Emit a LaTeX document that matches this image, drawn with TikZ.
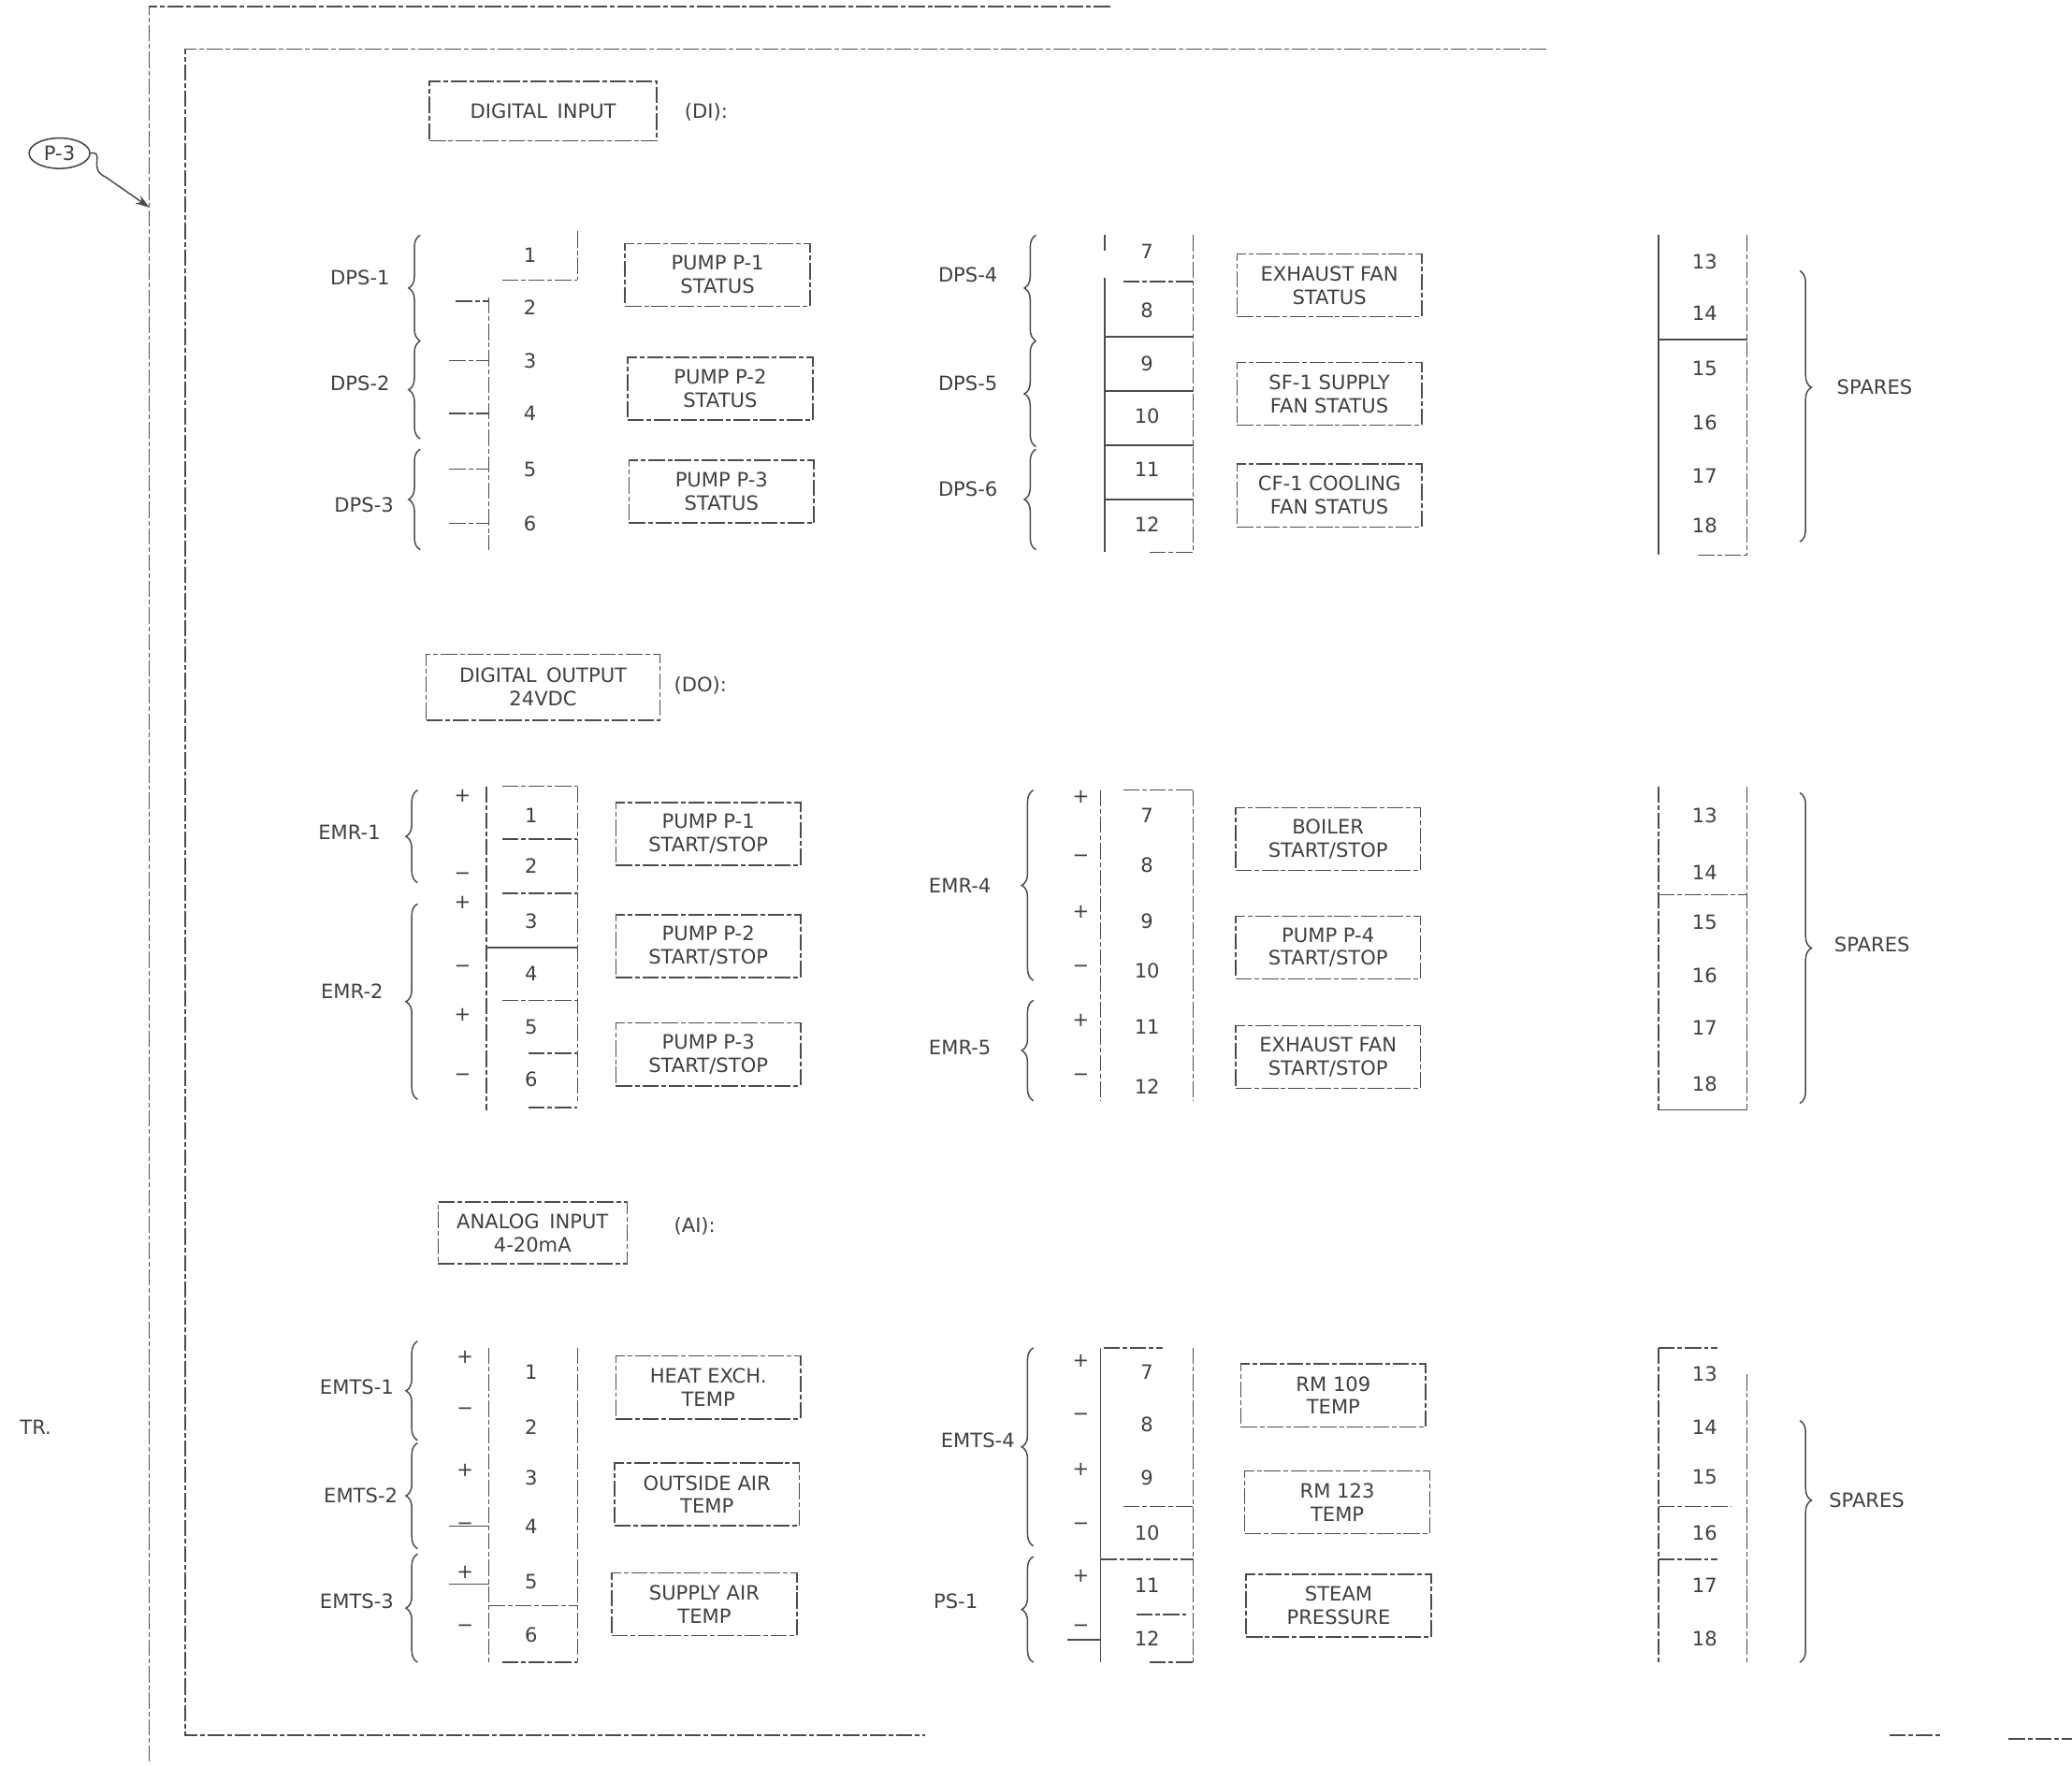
\documentclass[tikz,border=0pt]{standalone}
\usepackage{fontspec}
\setmainfont{DejaVu Sans}
\usetikzlibrary{decorations.pathreplacing,arrows.meta,shapes.geometric}
\begin{document}
\begin{tikzpicture}[x=0.02cm,y=-0.02cm,
  ink/.style={draw=black!70, line width=0.6pt},
  fl/.style={ink, dash pattern=on 7pt off 1.2pt on 2pt off 1.2pt},
  txt/.style={font=\fontsize{8.5}{10}\selectfont, text=black!75, inner sep=1pt},
  tbox/.style={txt, fl, align=center, minimum width=2.8cm, minimum height=0.95cm},
  ttl/.style={txt, fl, align=center, minimum height=0.9cm},
  brc/.style={ink, decorate, decoration={brace, amplitude=5pt}},
  brca/.style={ink, decorate, decoration={brace, amplitude=5pt, aspect=#1}},
]
\fill[white] (0,0) rectangle (1568,1337);
\useasboundingbox (0,0) rectangle (1568,1337);

% frames
\draw[fl] (840,5) -- (113,5) -- (113,1333);
\draw[fl] (1170,37) -- (140,37) -- (140,1313) -- (700,1313);
\draw[fl] (1430,1313) -- (1470,1313);
\draw[fl] (1520,1316) -- (1568,1316);

% P-3 reference
\node[txt, draw=black!75, line width=0.6pt, ellipse, minimum width=0.92cm, minimum height=0.46cm, inner sep=0] (p3) at (45,116) {P-3};
\coordinate (p3tip) at (113,157);
\draw[ink, -{Stealth[length=6pt,width=4pt]}] (p3.east) .. controls (80,114) and (66,128) .. (80,134) -- (p3tip);
\node[txt] (tr) at (27,1080) {TR.};

%%%%%%%%%%%%%%%% DIGITAL INPUT %%%%%%%%%%%%%%%%
\node[ttl, minimum width=3.44cm] (di) at (411,84) {DIGITAL\enspace INPUT};
\node[txt, anchor=west] (dit) at (516,85) {(DI):};

% left strip
\node[txt, anchor=east] (dps1) at (297,210) {DPS-1};
\node[txt, anchor=east] (dps2) at (297,290) {DPS-2};
\node[txt, anchor=east] (dps3) at (300,382) {DPS-3};
\draw[brc] (318,258) -- (318,178);
\draw[brc] (318,332) -- (318,258);
\draw[brc] (318,416) -- (318,340);
\foreach \n/\y in {1/193,2/233,3/273,4/313,5/355,6/396}
  \node[txt] (a\n) at (401,\y) {\n};
\draw[fl] (370,225) -- (370,416);
\draw[fl] (437,175) -- (437,212);
\draw[fl] (380,212) -- (437,212);
\draw[fl] (345,228) -- (370,228);
\foreach \y in {273,313,355,396} \draw[fl] (340,\y) -- (370,\y);
\node[tbox] (s1) at (543,208) {PUMP P-1\\STATUS};
\node[tbox] (s2) at (545,294) {PUMP P-2\\STATUS};
\node[tbox] (s3) at (546,372) {PUMP P-3\\STATUS};

% middle strip
\node[txt, anchor=east] (dps4) at (757,208) {DPS-4};
\node[txt, anchor=east] (dps5) at (757,290) {DPS-5};
\node[txt, anchor=east] (dps6) at (757,370) {DPS-6};
\draw[brc] (784,258) -- (784,178);
\draw[brc] (784,338) -- (784,258);
\draw[brc] (784,416) -- (784,340);
\foreach \n/\y in {7/190,8/235,9/275,10/315,11/355,12/397}
  \node[txt] (b\n) at (868,\y) {\n};
\draw[fl] (836,178) -- (836,190);
\draw[ink] (836,210) -- (836,418);
\draw[fl] (903,178) -- (903,418);
\draw[fl] (850,213) -- (903,213);
\foreach \y in {255,296,337,378} \draw[ink] (836,\y) -- (903,\y);
\draw[fl] (870,418) -- (903,418);
\node[tbox] (s4) at (1006,216) {EXHAUST FAN\\STATUS};
\node[tbox] (s5) at (1006,298) {SF-1 SUPPLY\\FAN STATUS};
\node[tbox] (s6) at (1006,375) {CF-1 COOLING\\FAN STATUS};

% right strip
\foreach \n/\y in {13/198,14/237,15/279,16/320,17/360,18/398}
  \node[txt] (c\n) at (1290,\y) {\n};
\draw[ink] (1255,178) -- (1255,420);
\draw[fl] (1322,178) -- (1322,420);
\draw[ink] (1255,257) -- (1322,257);
\draw[fl] (1285,420) -- (1322,420);
\draw[brca=0.43] (1362,205) -- (1362,410);
\node[txt, anchor=west] (sp1) at (1388,293) {SPARES};

%%%%%%%%%%%%%%%% DIGITAL OUTPUT %%%%%%%%%%%%%%%%
\node[ttl, minimum width=3.54cm, minimum height=1.0cm] (do) at (411,520) {DIGITAL\enspace OUTPUT\\24VDC};
\node[txt, anchor=west] (dot) at (508,519) {(DO):};

\node[txt, anchor=east] (emr1) at (290,630) {EMR-1};
\node[txt, anchor=east] (emr2) at (292,750) {EMR-2};
\draw[brc] (316,668) -- (316,598);
\draw[brc] (316,832) -- (316,684);
\foreach \s/\y [count=\i] in {+/602,−/663,+/683,−/733,+/768,−/815}
  \node[txt] (dpm\i) at (350,\y) {\s};
\foreach \n/\y in {1/617,2/655,3/697,4/737,5/777,6/817}
  \node[txt] (d\n) at (402,\y) {\n};
\draw[fl] (368,595) -- (368,840);
\draw[fl] (437,595) -- (437,835);
\foreach \y in {595,635,676,757} \draw[fl] (380,\y) -- (437,\y);
\draw[ink] (368,717) -- (437,717);
\draw[fl] (400,797) -- (437,797);
\draw[fl] (400,838) -- (437,838);
\node[tbox] (o1) at (536,631) {PUMP P-1\\START/STOP};
\node[tbox] (o2) at (536,716) {PUMP P-2\\START/STOP};
\node[tbox] (o3) at (536,798) {PUMP P-3\\START/STOP};

\node[txt, anchor=east] (emr4) at (752,670) {EMR-4};
\node[txt, anchor=east] (emr5) at (752,793) {EMR-5};
\draw[brc] (782,742) -- (782,598);
\draw[brc] (782,833) -- (782,757);
\foreach \s/\y [count=\i] in {+/603,−/650,+/690,−/733,+/772,−/815}
  \node[txt] (epm\i) at (818,\y) {\s};
\foreach \n/\y in {7/617,8/655,9/697,10/735,11/777,12/822}
  \node[txt] (e\n) at (868,\y) {\n};
\draw[fl] (833,598) -- (833,833);
\draw[fl] (903,598) -- (903,833);
\draw[fl] (850,598) -- (903,598);
\node[tbox] (o4) at (1005,635) {BOILER\\START/STOP};
\node[tbox] (o5) at (1005,717) {PUMP P-4\\START/STOP};
\node[tbox] (o6) at (1005,800) {EXHAUST FAN\\START/STOP};

\foreach \n/\y in {13/617,14/660,15/698,16/738,17/778,18/820}
  \node[txt] (f\n) at (1290,\y) {\n};
\draw[fl] (1255,595) -- (1255,840);
\draw[fl] (1322,595) -- (1322,840);
\draw[fl] (1255,677) -- (1322,677);
\draw[ink] (1255,840) -- (1322,840);
\draw[brc] (1362,600) -- (1362,835);
\node[txt, anchor=west] (sp2) at (1386,715) {SPARES};

%%%%%%%%%%%%%%%% ANALOG INPUT %%%%%%%%%%%%%%%%
\node[ttl, minimum width=2.86cm, minimum height=0.94cm] (ai) at (403,933) {ANALOG\enspace INPUT\\4-20mA};
\node[txt, anchor=west] (ait) at (508,928) {(AI):};

\node[txt, anchor=east] (emts1) at (300,1050) {EMTS-1};
\node[txt, anchor=east] (emts2) at (303,1132) {EMTS-2};
\node[txt, anchor=east] (emts3) at (300,1212) {EMTS-3};
\draw[brc] (316,1090) -- (316,1015);
\draw[brc] (316,1172) -- (316,1092);
\draw[brc] (316,1258) -- (316,1176);
\foreach \s/\y [count=\i] in {+/1027,−/1068,+/1113,−/1155,+/1190,−/1232}
  \node[txt] (gpm\i) at (352,\y) {\s};
\foreach \n/\y in {1/1038,2/1080,3/1118,4/1155,5/1197,6/1237}
  \node[txt] (g\n) at (402,\y) {\n};
\draw[fl] (370,1020) -- (370,1258);
\draw[fl] (437,1020) -- (437,1258);
\draw[fl] (370,1215) -- (437,1215);
\draw[fl] (380,1258) -- (437,1258);
\draw[ink] (340,1155) -- (370,1155);
\draw[ink] (340,1199) -- (370,1199);
\node[tbox] (a1) at (536,1050) {HEAT EXCH.\\TEMP};
\node[tbox] (a2) at (535,1131) {OUTSIDE AIR\\TEMP};
\node[tbox] (a3) at (533,1214) {SUPPLY AIR\\TEMP};

\node[txt, anchor=east] (emts4) at (770,1090) {EMTS-4};
\node[txt, anchor=east] (ps1) at (742,1212) {PS-1};
\draw[brc] (782,1170) -- (782,1020);
\draw[brc] (782,1258) -- (782,1178);
\foreach \s/\y [count=\i] in {+/1030,−/1072,+/1112,−/1155,+/1193,−/1232}
  \node[txt] (hpm\i) at (818,\y) {\s};
\draw[ink] (808,1241) -- (833,1241);
\foreach \n/\y in {7/1038,8/1078,9/1118,10/1160,11/1200,12/1240}
  \node[txt] (h\n) at (868,\y) {\n};
\draw[ink] (833,1020) -- (833,1258);
\draw[fl] (903,1020) -- (903,1258);
\draw[fl] (835,1020) -- (880,1020);
\draw[fl] (850,1140) -- (903,1140);
\draw[fl] (833,1180) -- (903,1180);
\draw[fl] (860,1222) -- (900,1222);
\draw[fl] (870,1258) -- (903,1258);
\node[tbox] (a4) at (1009,1056) {RM 109\\TEMP};
\node[tbox] (a5) at (1012,1137) {RM 123\\TEMP};
\node[tbox] (a6) at (1013,1215) {STEAM\\PRESSURE};

\foreach \n/\y in {13/1040,14/1080,15/1118,16/1160,17/1200,18/1240}
  \node[txt] (k\n) at (1290,\y) {\n};
\draw[fl] (1255,1020) -- (1255,1260);
\draw[fl] (1322,1040) -- (1322,1260);
\draw[fl] (1255,1020) -- (1300,1020);
\draw[fl] (1255,1140) -- (1310,1140);
\draw[fl] (1255,1180) -- (1300,1180);
\draw[brca=0.33] (1362,1075) -- (1362,1258);
\node[txt, anchor=west] (sp3) at (1382,1135) {SPARES};
\end{tikzpicture}
\end{document}
